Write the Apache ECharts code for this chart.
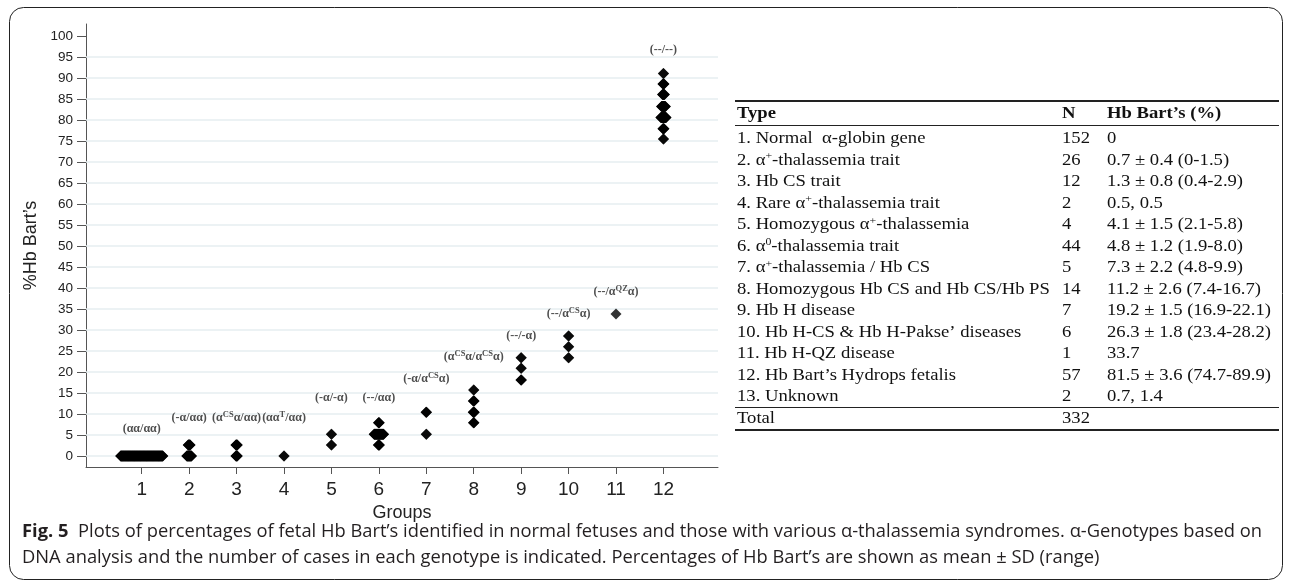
<!DOCTYPE html>
<html><head><meta charset="utf-8">
<script src="https://cdn.jsdelivr.net/npm/echarts@6/dist/echarts.min.js"></script>
<style>html,body{margin:0;padding:0;background:#fff}#c{width:1292px;height:584px}</style>
</head><body><div id="c"></div>
<script>
// ---- data ----
const groups = [1,2,3,4,5,6,7,8,9,10,11,12];
const groupLabels = ['(αα/αα)','(-α/αα)','(α{s|CS}α/αα)','(αα{s|T}/αα)','(-α/-α)','(--/αα)','(-α/α{s|CS}α)','(α{s|CS}α/α{s|CS}α)','(--/-α)','(--/α{s|CS}α)','(--/α{s|QZ}α)','(--/--)'];
const labelAnchor = [6.4, 9.0, 9.0, 9.0, 13.8, 13.8, 18.3, 23.6, 28.6, 33.8, 39.0, 96.7];
const binValues = [[0],[0,2.6],[0,2.6],[0],[2.6,5.2],[2.6,5.2,7.9],[5.2,10.4],[7.9,10.4,13.1,15.7],[18.1,20.9,23.4],[23.4,26.0,28.6],[33.8],[75.5,77.9,80.6,83.2,86.1,88.6,91.1]];
const binCounts = [[152],[18,8],[6,6],[2],[2,2],[5,35,4],[2,3],[3,5,4,2],[3,2,2],[2,2,2],[1],[2,5,20,15,8,5,2]];
const yTicks = [0,5,10,15,20,25,30,35,40,45,50,55,60,65,70,75,80,85,90,95,100];
const gridValues = [0,5,10,15,20,25,30,35,40,45,50,55,60,65,70,75,80,85,90,95];
const tableHeader = ['Type','N','Hb Bart’s (%)'];
const tableType = ['1. Normal  α-globin gene','2. α{s|+}-thalassemia trait','3. Hb CS trait','4. Rare α{s|+}-thalassemia trait','5. Homozygous α{s|+}-thalassemia','6. α{s|0}-thalassemia trait','7. α{s|+}-thalassemia / Hb CS','8. Homozygous Hb CS and Hb CS/Hb PS','9. Hb H disease','10. Hb H-CS & Hb H-Pakse’ diseases','11. Hb H-QZ disease','12. Hb Bart’s Hydrops fetalis','13. Unknown'];
const tableN = ['152','26','12','2','4','44','5','14','7','6','1','57','2'];
const tableHb = ['0','0.7 ± 0.4 (0-1.5)','1.3 ± 0.8 (0.4-2.9)','0.5, 0.5','4.1 ± 1.5 (2.1-5.8)','4.8 ± 1.2 (1.9-8.0)','7.3 ± 2.2 (4.8-9.9)','11.2 ± 2.6 (7.4-16.7)','19.2 ± 1.5 (16.9-22.1)','26.3 ± 1.8 (23.4-28.2)','33.7','81.5 ± 3.6 (74.7-89.9)','0.7, 1.4'];
const tableTotal = ['Total','332'];
const captionBold = 'Fig. 5';
const captionLine1 = '  Plots of percentages of fetal Hb Bart’s identified in normal fetuses and those with various α-thalassemia syndromes. α-Genotypes based on';
const captionLine2 = 'DNA analysis and the number of cases in each genotype is indicated. Percentages of Hb Bart’s are shown as mean ± SD (range)';

// ---- layout helpers ----
const dotSpacing = 0.0059;
const dots = [];
groups.forEach((g, gi) => {
  binValues[gi].forEach((v, bi) => {
    const n = binCounts[gi][bi];
    for (let k = 0; k < n; k++) dots.push([g + (k - (n - 1) / 2) * dotSpacing, v]);
  });
});
const labelData = groups.map((g, i) => [g, labelAnchor[i]]);

const sans = "'Liberation Sans',Arial,sans-serif";
const serif = "'Liberation Serif','Times New Roman',serif";
const capFont = "'Open Sans','Noto Sans',sans-serif";

// caption scale
const cv = document.createElement('canvas').getContext('2d');
cv.font = 'bold 17.5px ' + capFont;
let wB = cv.measureText(captionBold).width;
cv.font = '17.5px ' + capFont;
let w1 = cv.measureText(captionLine1).width;
const capScale = 1240 / (wB + w1);

// table
const tX = [737, 1062, 1107];
const tHeadY = 114, tRow0 = 139, tStep = 21.5;
const tScale = 1.13;
const richSup = { s: { fontSize: 10.5, lineHeight: 9, verticalAlign: 'top', fontFamily: serif, fill: '#111' } };
function tText(x, y, text, bold) {
  return { type: 'text', x: x, y: y, scaleX: tScale, silent: true,
    style: { text: text, fontFamily: serif, fontSize: 16.5, fontWeight: bold ? 'bold' : 'normal', fill: '#111',
      textAlign: 'left', textVerticalAlign: 'middle', verticalAlign: 'middle', lineHeight: 19, rich: richSup } };
}
const graphics = [];
graphics.push({ type: 'rect', shape: { x: 9.5, y: 7.5, width: 1273, height: 572, r: 14 }, style: { fill: 'none', stroke: '#222', lineWidth: 1 }, silent: true });
tableHeader.forEach((h, i) => graphics.push(tText(tX[i], tHeadY, h, true)));
tableType.forEach((t, i) => {
  const y = tRow0 + i * tStep;
  graphics.push(tText(tX[0], y, t));
  graphics.push(tText(tX[1], y, tableN[i]));
  graphics.push(tText(tX[2], y, tableHb[i]));
});
const totalY = tRow0 + tableType.length * tStep;
graphics.push(tText(tX[0], totalY, tableTotal[0]));
graphics.push(tText(tX[1], totalY, tableTotal[1]));
const ruleL = 735, ruleR = 1279;
[[101, 2], [125.5, 1], [totalY - 11, 1], [totalY + 11.5, 2]].forEach(r => graphics.push({ type: 'line', silent: true,
  shape: { x1: ruleL, y1: r[0], x2: ruleR, y2: r[0] }, style: { stroke: '#222', lineWidth: r[1] } }));
// caption
graphics.push({ type: 'text', x: 22, y: 532, scaleX: capScale, silent: true,
  style: { text: '{b|' + captionBold + '}' + captionLine1, fontFamily: capFont, fontSize: 17.5, fill: '#231f20', textVerticalAlign: 'middle', verticalAlign: 'middle',
    rich: { b: { fontFamily: capFont, fontSize: 17.5, fontWeight: 'bold', fill: '#231f20' } } } });
graphics.push({ type: 'text', x: 22, y: 558, scaleX: capScale, silent: true,
  style: { text: captionLine2, fontFamily: capFont, fontSize: 17.5, fill: '#231f20', textVerticalAlign: 'middle', verticalAlign: 'middle' } });

const chart = echarts.init(document.getElementById('c'), null, { renderer: 'canvas' });
chart.setOption({
  animation: false,
  backgroundColor: '#fff',
  grid: { left: 86, right: 574, top: 24, bottom: 117, containLabel: false },
  xAxis: {
    type: 'value', min: -0.175, max: 13.15,
    name: 'Groups', nameLocation: 'middle', nameGap: 34,
    nameTextStyle: { fontFamily: sans, fontSize: 18, color: '#222' },
    axisLine: { show: true, onZero: false, lineStyle: { color: '#555', width: 1 } },
    axisTick: { show: true, length: 7, customValues: groups, lineStyle: { color: '#555' } },
    axisLabel: { customValues: groups, margin: 13, fontFamily: sans, fontSize: 19, color: '#222' },
    splitLine: { show: false }
  },
  yAxis: {
    type: 'value', min: -2.62, max: 102.86,
    name: '%Hb Bart’s', nameLocation: 'middle', nameGap: 46,
    nameTextStyle: { fontFamily: sans, fontSize: 18, color: '#222' },
    axisLine: { show: true, onZero: false, lineStyle: { color: '#555', width: 1 } },
    axisTick: { show: true, length: 9, customValues: yTicks, lineStyle: { color: '#555' } },
    axisLabel: { customValues: yTicks, margin: 13, fontFamily: sans, fontSize: 13.5, color: '#222' },
    splitLine: { show: false }
  },
  graphic: graphics,
  series: [
    { type: 'scatter', data: [], z: 1, silent: true,
      markLine: { z: 1, silent: true, symbol: ['none', 'none'], label: { show: false },
        lineStyle: { color: '#e6eef1', width: 1.5, type: 'solid' },
        data: gridValues.map(v => ({ yAxis: v })) } },
    { type: 'scatter', data: dots, z: 3, symbol: 'diamond', symbolSize: 11, itemStyle: { color: '#000' }, silent: true },
    { type: 'scatter', data: labelData, z: 4, symbolSize: 0, silent: true,
      label: { show: true, position: 'inside', formatter: p => groupLabels[p.dataIndex],
        fontFamily: serif, fontWeight: 'bold', fontSize: 12, color: '#222', lineHeight: 16, verticalAlign: 'middle',
        rich: { s: { fontFamily: serif, fontWeight: 'bold', fontSize: 8.5, lineHeight: 8, verticalAlign: 'top', color: '#222' } } } }
  ]
});
</script>
</body></html>
